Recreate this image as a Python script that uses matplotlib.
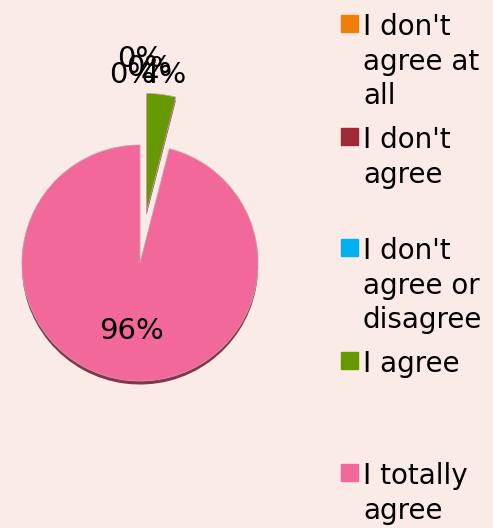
import numpy as np
import matplotlib.pyplot as plt
from matplotlib.patches import Rectangle

# survey answers (percent)
labels = ["I don't\nagree at\nall", "I don't\nagree", "I don't\nagree or\ndisagree",
          "I agree", "I totally\nagree"]
values = [0, 0, 0, 4, 96]
colors = ["#F07F09", "#9F2936", "#00B0F0", "#669900", "#F2689A"]
legend_tops = [15, 128, 239, 352, 464]   # px from top of figure

W, H = 493, 528
bg = "#FAEBE7"
fig = plt.figure(figsize=(W / 100, H / 100), dpi=100, facecolor=bg)

# pie axes: 1 data unit = 118 px, centre at (140, 263) px
r_px = 118.0
cx, cy = 140.0, 263.0
ax = fig.add_axes([0, 0, 306 / W, 1])
ax.set_facecolor(bg)

explode = [0.44 if v < 50 else 0 for v in values]

# dark rim under the big slice (pseudo 3D)
ax.pie(values, colors=["#8A3150"] * 5, startangle=90, counterclock=False,
       explode=explode, center=(0, -0.03), radius=1.0,
       wedgeprops=dict(linewidth=0))

wedges, texts, autotexts = ax.pie(
    values, colors=colors, startangle=90, counterclock=False, explode=explode,
    autopct=lambda p: "%d%%" % round(p), pctdistance=0.58,
    wedgeprops=dict(linewidth=0.6, edgecolor="#C9A0A8"),
    textprops=dict(fontsize=21, color="black"))

# labels of the small slices sit far outside, piled up above the top
nudges = [(-0.07, -0.02), (0.0, 0.12), (0.08, 0.04), (0.0, 0.0)]
for i, (w, t) in enumerate(zip(wedges, autotexts)):
    if values[i] == 0:
        w.set_linewidth(0)
    if values[i] >= 50:
        continue
    mid = np.deg2rad((w.theta1 + w.theta2) / 2)
    dx, dy = nudges[i]
    t.set_position((1.61 * np.cos(mid) + dx, 1.61 * np.sin(mid) + dy))

ax.set_aspect("auto")
ax.set_xlim(-cx / r_px, (306 - cx) / r_px)
ax.set_ylim(-(H - cy) / r_px, cy / r_px)
ax.axis("off")

# legend drawn by hand on the right
for lab, col, top in zip(labels, colors, legend_tops):
    fig.patches.append(Rectangle((341 / W, 1 - (top + 17) / H), 17 / W, 17 / H,
                                 transform=fig.transFigure, color=col))
    fig.text(363 / W, 1 - (top - 2) / H, lab, fontsize=20, va="top", ha="left",
             linespacing=1.3, color="black")

fig.savefig("out.png", dpi=100, facecolor=bg)
